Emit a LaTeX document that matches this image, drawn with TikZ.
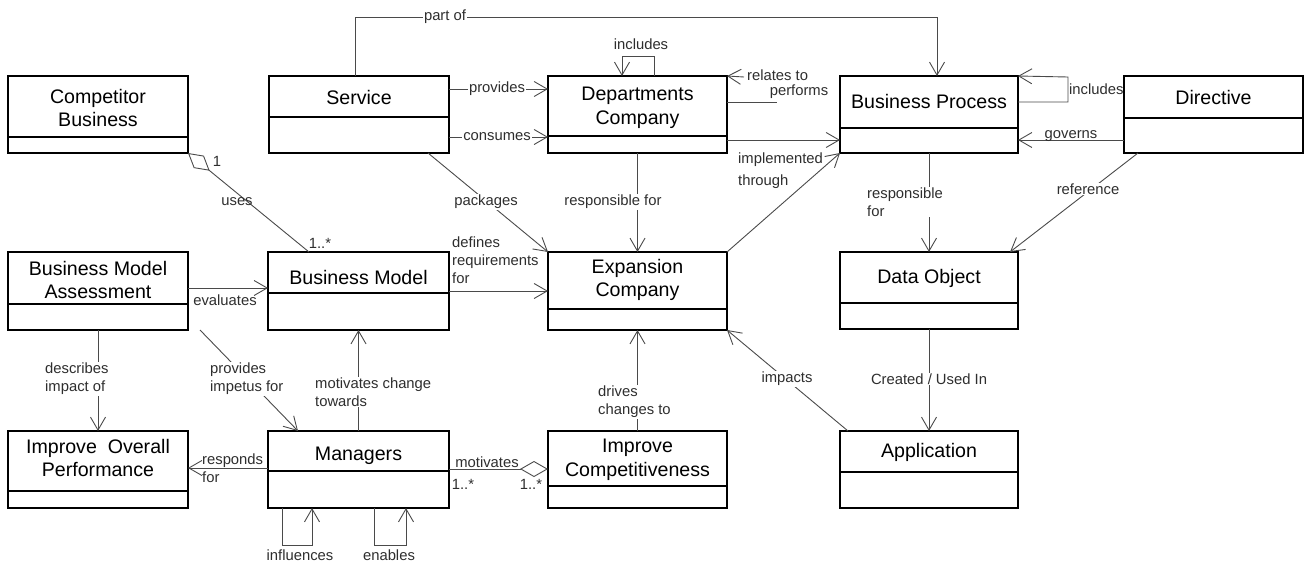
\documentclass[tikz,border=0pt]{standalone}
\usepackage{fontspec}
\setmainfont{Liberation Sans}
\usetikzlibrary{arrows.meta,fit,calc}
\definecolor{linegray}{HTML}{4A4A4A}
\definecolor{lblgray}{HTML}{2E2E2E}
\newcommand\titlefont{\fontsize{19.6}{23.5}\selectfont}
\newcommand\lblfont{\fontsize{14.8}{18}\selectfont}
% class box: name, left, top, right, bottom, divider y, title y, title
\newcommand\umlclass[8]{%
  \node[umlbox, fit={(#2,#3) (#4,#5)}] (#1) {};
  \draw[divline] (#1.west |- 0,#6) -- (#1.east |- 0,#6);
  \node[ctitle] (#1-title) at ({(#2+#4)/2},#7) {#8};
}
\tikzset{
  umlbox/.style={draw=black, line width=2.8pt, inner sep=0pt, outer sep=0pt},
  divline/.style={draw=black, line width=2.8pt},
  ctitle/.style={font=\titlefont, align=center, text=black, inner sep=0pt},
  conn/.style={draw=linegray, line width=0.9pt},
  lbl/.style={font=\lblfont, text=lblgray, inner sep=1pt},
  lblw/.style={lbl, fill=white},
  agg/.style={conn, -{Diamond[open, length=28pt, width=16pt]}},
}
\begin{document}
\begin{tikzpicture}[x=1pt, y=-1pt, >={Straight Barb[length=13pt, width=15pt]}]
\fill[white] (0,0) rectangle (1306,562);
\useasboundingbox (0,0) rectangle (1306,562);

% classes
\umlclass{comp}{8}{76}{188}{153}{137}{108}{Competitor\\Business}
\umlclass{svc}{269}{76}{449}{153}{117}{97}{Service}
\umlclass{dept}{548}{76}{727}{153}{136}{108}{Departments\\Company}
\umlclass{bp}{840}{76}{1018}{153}{128}{101}{Business Process}
\umlclass{dir}{1124}{76}{1303}{153}{118}{97}{Directive}
\umlclass{bma}{8}{252}{188}{330}{304}{280}{Business Model\\Assessment}
\umlclass{bm}{268}{252}{449}{330}{293}{277}{Business Model}
\umlclass{exp}{548}{252}{727}{330}{309}{280}{Expansion\\Company}
\umlclass{dobj}{840}{252}{1018}{329}{303}{278}{Data Object}
\umlclass{iop}{8}{431}{188}{508}{491}{458}{Improve\ \ Overall\\Performance}
\umlclass{mgr}{268}{431}{449}{508}{471}{456}{Managers}
\umlclass{ic}{548}{431}{727}{508}{486}{460}{Improve\\Competitiveness}
\umlclass{app}{840}{431}{1018}{508}{472}{452}{Application}

% Service is part of Business Process
\draw[conn,->] (svc.north -| 355,0) -- (355,17) -- (937,17) -- (bp.north -| 937,0);
\node[lblw] (l-partof) at (445,17) {part of};

% Service -> Departments
\draw[conn,->] (svc.east |- 0,89) -- (dept.west |- 0,89);
\node[lblw] (l-provides) at (497,89) {provides};
\draw[conn,->] (svc.east |- 0,137) -- (dept.west |- 0,137);
\node[lblw] (l-consumes) at (497,137) {consumes};

% Departments self association
\draw[conn,->] (dept.north -| 654,0) -- (654,56) -- (622,56) -- (dept.north -| 622,0);
\node[lbl] (l-dinc) at (641,44) {includes};

% relates to / performs
\coordinate (relfree) at (744,77);
\draw[conn,->] (relfree) -- (dept.north east);
\node[lbl, anchor=west] (l-relates) at (746,75) {relates to};
\coordinate (perffree) at (777,102);
\draw[conn] (dept.east |- 0,102) -- (perffree);
\node[lbl] (l-performs) at (799,92) {performs};

% Departments -> Business Process
\draw[conn,->] (dept.east |- 0,140) -- (bp.west |- 0,140);

% Expansion implemented through Business Process
\draw[conn,->] (exp.north east) -- (bp.south west);
\node[lbl, align=left, anchor=west] (l-impl) at (737,171) {implemented\\[4pt]through};

% Departments responsible for Expansion
\draw[conn,->] (dept.south) -- (exp.north);
\node[lblw] (l-respd) at (613,202) {responsible for};

% Service packages Expansion
\draw[conn,->] (svc.south -| 428,0) -- (exp.north west);
\node[lblw] (l-packages) at (486,202) {packages};

% Competitor uses Business Model
\draw[agg] (bm.north -| 309,0) -- (comp.south east);
\node[lbl] (l-m1) at (217,161) {1};
\node[lbl] (l-uses) at (237,202) {uses};
\node[lbl] (l-m2) at (320,243) {1..*};

% Assessment evaluates Business Model
\draw[conn,->] (bma.east |- 0,288) -- (bm.west |- 0,288);
\node[lbl] (l-eval) at (225,300) {evaluates};

% Business Model defines requirements for Expansion
\draw[conn,->] (bm.east |- 0,291) -- (exp.west |- 0,291);
\node[lbl, align=left, anchor=west] (l-defines) at (451,260) {defines\\requirements\\for};

% Assessment -> Improve Overall Performance
\draw[conn,->] (bma.south) -- (iop.north);
\node[lblw, align=left, anchor=west] (l-describes) at (44,379) {describes\\impact of};

% Assessment provides impetus for Managers
\draw[conn,->] ([xshift=12pt]bma.south east) -- (mgr.north -| 298,0);
\node[lblw, align=left, anchor=west] (l-impetus) at (209,379) {provides\\impetus for};

% Managers motivate change towards Business Model
\draw[conn,->] (mgr.north) -- (bm.south);
\node[lblw, align=left, anchor=west] (l-motchange) at (314,392) {motivates change\\towards};

% Managers respond for Improve Overall Performance
\draw[conn,->] (mgr.west |- 0,468) -- (iop.east |- 0,468);
\node[lbl, align=left, anchor=west] (l-responds) at (201,468) {responds\\for};

% Managers self associations
\draw[conn,->] (mgr.south -| 282,0) -- (282,545) -- (312,545) -- (mgr.south -| 312,0);
\node[lbl] (l-infl) at (300,555) {influences};
\draw[conn,->] (mgr.south -| 374,0) -- (374,545) -- (406,545) -- (mgr.south -| 406,0);
\node[lbl] (l-enables) at (389,555) {enables};

% Managers motivate Improve Competitiveness
\draw[agg] (mgr.east |- 0,469) -- (ic.west |- 0,469);
\node[lbl, anchor=base] (l-motivates) at (487,467) {motivates};
\node[lbl] (l-m3) at (463,484) {1..*};
\node[lbl] (l-m4) at (531,484) {1..*};

% Improve Competitiveness drives changes to Expansion
\draw[conn,->] (ic.north) -- (exp.south);
\node[lblw, align=left, anchor=west] (l-drives) at (597,402) {drives\\changes to};

% Application impacts Expansion
\draw[conn,->] ([xshift=8pt]app.north west) -- (exp.south east);
\node[lblw] (l-impacts) at (787,379) {impacts};

% Data Object -> Application
\draw[conn,->] (dobj.south) -- (app.north);
\node[lblw] (l-created) at (929,379) {Created / Used In};

% Business Process responsible for Data Object
\draw[conn,->] (bp.south) -- (dobj.north);
\node[lblw, align=left, anchor=west] (l-respbp) at (866,202) {responsible\\for};

% Business Process self association
\draw[conn,->] (bp.east |- 0,102) -- (1068,102) -- (1068,77) -- (bp.north east);
\node[lbl, anchor=west] (l-bpinc) at (1068,89) {includes};

% Directive governs Business Process
\draw[conn,->] (dir.west |- 0,140) -- (bp.east |- 0,140);
\node[lbl, anchor=base] (l-governs) at (1071,138) {governs};

% Directive referenced by Data Object
\draw[conn,->] ([xshift=14pt]dir.south west) -- ([xshift=-8pt]dobj.north east);
\node[lblw] (l-reference) at (1088,189) {reference};
\end{tikzpicture}
\end{document}
